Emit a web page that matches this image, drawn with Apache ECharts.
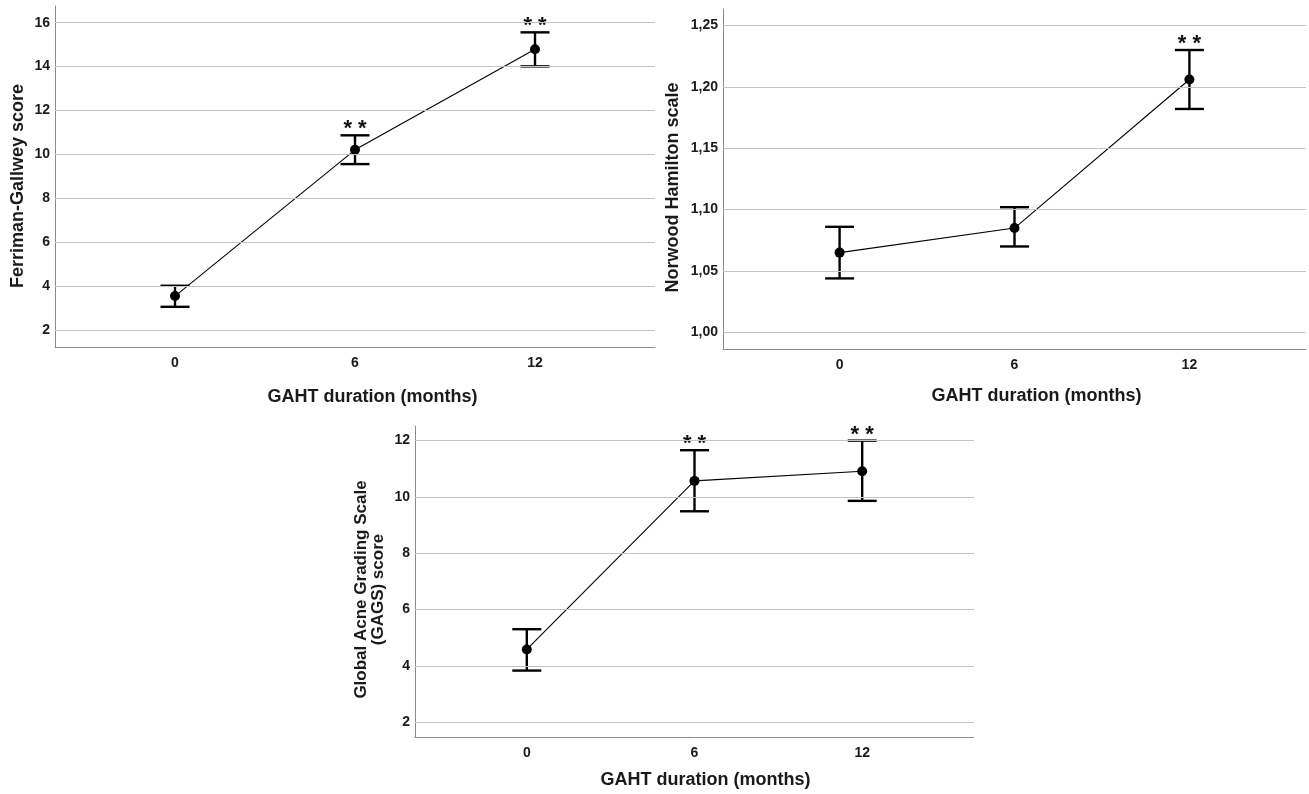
<!DOCTYPE html>
<html>
<head>
<meta charset="utf-8">
<script src="https://cdn.jsdelivr.net/npm/echarts@6/dist/echarts.min.js"></script>
<style>
html,body{margin:0;padding:0;background:#fff;}
#chart{width:1309px;height:794px;}
</style>
</head>
<body>
<div id="chart"></div>
<script>
// ---- data ----
const months = [0, 6, 12];
const xTicks = [0, 6, 12];

const fgMean = [3.55, 10.21, 14.79];
const fgLow  = [3.06, 9.56, 14.01];
const fgHigh = [4.02, 10.87, 15.56];
const fgSig  = ['', '**', '**'];
const fgTicks = [2, 4, 6, 8, 10, 12, 14, 16];

const nhMean = [1.065, 1.085, 1.206];
const nhLow  = [1.044, 1.070, 1.182];
const nhHigh = [1.086, 1.102, 1.230];
const nhSig  = ['', '', '**'];
const nhTicks = [1.00, 1.05, 1.10, 1.15, 1.20, 1.25];

const gaMean = [4.58, 10.57, 10.91];
const gaLow  = [3.83, 9.49, 9.86];
const gaHigh = [5.30, 11.66, 12.00];
const gaSig  = ['', '**', '**'];
const gaTicks = [2, 4, 6, 8, 10, 12];

const xTitle = 'GAHT duration (months)';
const yTitles = ['Ferriman-Gallwey score', 'Norwood Hamilton scale', 'Global Acne Grading Scale\n(GAGS) score'];

// ---- styling helpers ----
const narrow = '"Liberation Sans Narrow", "Liberation Sans", Arial, sans-serif';
const sans = '"Liberation Sans", Arial, sans-serif';
const axisColor = '#8a8a8a';
const gridColor = '#c4c4c4';

const panels = [
  {grid:{left:55, width:600, top:6, height:341}, yMin:1.23, yMax:16.76, split:8,
   ticks:fgTicks, fmt:v=>String(Math.round(v)), mean:fgMean, low:fgLow, high:fgHigh, sig:fgSig,
   xGap:41, xPad:[0,0,0,35], yGap:28, yPad:[0,19,0,0], yFont:18},
  {grid:{left:723, width:586, top:9, height:340}, yMin:0.9865, yMax:1.2634, split:5,
   ticks:nhTicks, fmt:v=>v.toFixed(2).replace('.', ','), mean:nhMean, low:nhLow, high:nhHigh, sig:nhSig,
   xGap:38, xPad:[0,0,0,44], yGap:41, yPad:[0,17,0,0], yFont:18},
  {grid:{left:415, width:559, top:426, height:311}, yMin:1.47, yMax:12.52, split:5,
   ticks:gaTicks, fmt:v=>String(Math.round(v)), mean:gaMean, low:gaLow, high:gaHigh, sig:gaSig,
   xGap:34, xPad:[0,0,0,22], yGap:28, yPad:[0,16,0,0], yFont:17}
];

const grids = [], xAxes = [], yAxes = [], series = [];
panels.forEach((p, k) => {
  grids.push(Object.assign({containLabel:false}, p.grid));
  xAxes.push({
    type:'value', gridIndex:k, min:-4, max:16, interval:2,
    axisLine:{show:true, onZero:false, lineStyle:{color:axisColor, width:1}},
    axisTick:{show:false}, splitLine:{show:false},
    axisLabel:{margin:9, color:'#1a1a1a', fontFamily:narrow, fontWeight:'bold', fontSize:14,
      formatter:v => xTicks.indexOf(v) >= 0 ? String(v) : ''},
    name:xTitle, nameLocation:'middle', nameGap:p.xGap,
    nameTextStyle:{fontFamily:sans, fontWeight:'bold', fontSize:18, color:'#1a1a1a', padding:p.xPad}
  });
  yAxes.push({
    type:'value', gridIndex:k, min:p.yMin, max:p.yMax, splitNumber:p.split,
    axisLine:{show:true, onZero:false, lineStyle:{color:axisColor, width:1}},
    axisTick:{show:false}, splitLine:{show:false},
    axisLabel:{margin:5, color:'#1a1a1a', fontFamily:narrow, fontWeight:'bold', fontSize:14,
      showMinLabel:false, showMaxLabel:false,
      formatter:v => p.ticks.some(t => Math.abs(t - v) < 1e-6) ? p.fmt(v) : ''},
    name:yTitles[k], nameLocation:'middle', nameGap:p.yGap, nameRotate:90,
    nameTextStyle:{fontFamily:sans, fontWeight:'bold', fontSize:p.yFont, lineHeight:p.yFont, color:'#1a1a1a', padding:p.yPad}
  });
  const pts = months.map((m, i) => [m, p.mean[i]]);
  // gridlines
  series.push({
    type:'line', xAxisIndex:k, yAxisIndex:k, data:pts, showSymbol:false, silent:true, z:1,
    lineStyle:{opacity:0},
    markLine:{silent:true, symbol:['none','none'], label:{show:false}, animation:false,
      lineStyle:{color:gridColor, type:'solid', width:1.2},
      data:p.ticks.map(t => ({yAxis:t}))}
  });
  // error bars + significance
  series.push({
    type:'custom', xAxisIndex:k, yAxisIndex:k, z:2, silent:true,
    data:months.map((m, i) => [m, p.low[i], p.high[i]]),
    renderItem:(params, api) => {
      const x = api.value(0), lo = api.value(1), hi = api.value(2);
      const a = api.coord([x, lo]), b = api.coord([x, hi]);
      const hw = 14.5;
      const st = {stroke:'#000', lineWidth:2.4};
      const children = [
        {type:'line', shape:{x1:a[0], y1:a[1], x2:b[0], y2:b[1]}, style:st},
        {type:'line', shape:{x1:a[0]-hw, y1:a[1], x2:a[0]+hw, y2:a[1]}, style:st},
        {type:'line', shape:{x1:b[0]-hw, y1:b[1], x2:b[0]+hw, y2:b[1]}, style:st}
      ];
      const s = p.sig[params.dataIndex];
      if (s) {
        children.push({type:'text', style:{text:s.split('').join(' '), x:b[0], y:b[1]-6, align:'center', verticalAlign:'middle',
          font:'bold 22px ' + sans, fill:'#111'}});
      }
      return {type:'group', children};
    }
  });
  // means
  series.push({
    type:'line', xAxisIndex:k, yAxisIndex:k, data:pts, z:3, silent:true,
    symbol:'circle', symbolSize:10, itemStyle:{color:'#000'},
    lineStyle:{color:'#000', width:1.1}
  });
});

const chart = echarts.init(document.getElementById('chart'), null, {renderer:'canvas'});
chart.setOption({animation:false, backgroundColor:'#fff', grid:grids, xAxis:xAxes, yAxis:yAxes, series});
</script>
</body>
</html>
